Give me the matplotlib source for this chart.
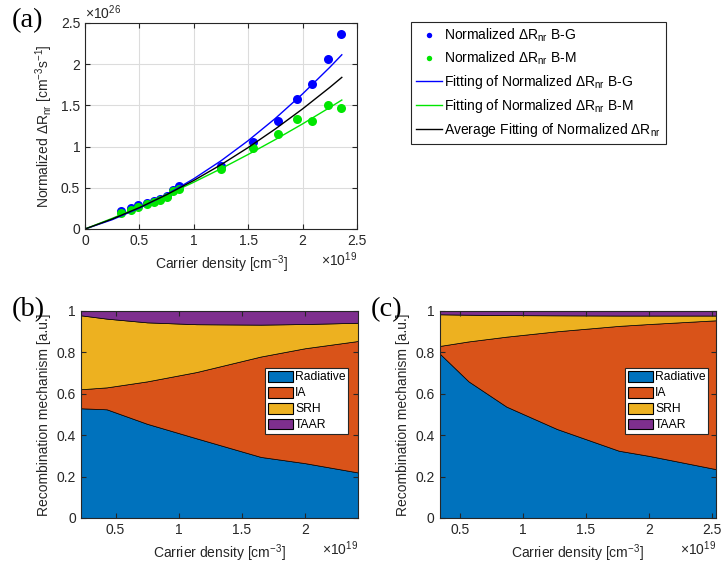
import numpy as np
import matplotlib
matplotlib.use("Agg")
import matplotlib.pyplot as plt

plt.rcParams["font.family"] = ["Liberation Sans", "DejaVu Sans"]
plt.rcParams["mathtext.fontset"] = "custom"
plt.rcParams["mathtext.rm"] = "Liberation Sans"
plt.rcParams["mathtext.it"] = "Liberation Sans:italic"

# ---- panel (a): normalized delta R_nr (units of 1e26) vs carrier density (units of 1e19)
n_bg = [0.33, 0.42, 0.49, 0.57, 0.63, 0.69, 0.75, 0.81, 0.86, 1.25, 1.54, 1.77, 1.95, 2.09, 2.23, 2.35]
r_bg = [0.22, 0.26, 0.29, 0.31, 0.34, 0.36, 0.40, 0.47, 0.52, 0.77, 1.06, 1.31, 1.58, 1.76, 2.06, 2.37]
n_bm = [0.33, 0.42, 0.49, 0.57, 0.63, 0.69, 0.75, 0.81, 0.86, 1.25, 1.54, 1.77, 1.95, 2.09, 2.23, 2.35]
r_bm = [0.20, 0.23, 0.27, 0.30, 0.33, 0.35, 0.39, 0.46, 0.49, 0.73, 0.98, 1.15, 1.33, 1.31, 1.50, 1.47]

n_fit = [0, 0.25, 0.5, 0.75, 1.0, 1.25, 1.5, 1.75, 2.0, 2.25, 2.36]
fit_bg = [0, 0.113, 0.253, 0.418, 0.61, 0.828, 1.073, 1.343, 1.64, 1.963, 2.114]
fit_bm = [0, 0.129, 0.267, 0.413, 0.568, 0.732, 0.905, 1.086, 1.276, 1.475, 1.565]
fit_avg = [0, 0.121, 0.26, 0.416, 0.589, 0.78, 0.989, 1.215, 1.458, 1.719, 1.84]

# ---- panel (b) and (c): recombination mechanism fractions
mech = ["Radiative", "IA", "SRH", "TAAR"]
n_b = [0.226, 0.43, 0.75, 1.14, 1.65, 2.0, 2.42]
rad_b = [0.53, 0.525, 0.455, 0.385, 0.295, 0.265, 0.22]
ia_b = [0.092, 0.106, 0.205, 0.32, 0.485, 0.555, 0.635]
srh_b = [0.357, 0.332, 0.285, 0.231, 0.154, 0.117, 0.088]
taar_b = [0.021, 0.037, 0.055, 0.064, 0.066, 0.063, 0.057]

n_c = [0.34, 0.57, 0.87, 1.27, 1.76, 2.0, 2.53]
rad_c = [0.795, 0.66, 0.538, 0.43, 0.325, 0.30, 0.236]
ia_c = [0.036, 0.193, 0.338, 0.472, 0.603, 0.637, 0.719]
srh_c = [0.153, 0.129, 0.104, 0.077, 0.05, 0.041, 0.023]
taar_c = [0.016, 0.018, 0.02, 0.021, 0.022, 0.022, 0.022]

MCOL = ["#0072BD", "#D95319", "#EDB120", "#7E2F8E"]
AXC = "#262626"


def matlab_style(ax):
    for s in ax.spines.values():
        s.set_color(AXC); s.set_linewidth(0.8)
    ax.tick_params(direction="in", colors=AXC, labelsize=10, length=3.5,
                   top=True, right=True, labeltop=False, labelright=False)


fig = plt.figure(figsize=(7.21, 5.65), dpi=100)

# (a)
ax = fig.add_axes([0.1179, 0.5947, 0.3773, 0.3646])
ax.plot(n_bg, r_bg, "o", color="#0000FF", ms=6.5, mec="none", label="Normalized ΔR$_{\\rm nr}$ B-G")
ax.plot(n_bm, r_bm, "o", color="#00E600", ms=6.5, mec="none", label="Normalized ΔR$_{\\rm nr}$ B-M")
ax.plot(n_fit, fit_bg, "-", color="#0000FF", lw=1.0, label="Fitting of Normalized ΔR$_{\\rm nr}$ B-G")
ax.plot(n_fit, fit_bm, "-", color="#00E600", lw=1.0, label="Fitting of Normalized ΔR$_{\\rm nr}$ B-M")
ax.plot(n_fit, fit_avg, "-", color="black", lw=1.0, label="Average Fitting of Normalized ΔR$_{\\rm nr}$")
ax.set_xlim(0, 2.5); ax.set_ylim(0, 2.5)
ax.set_xticks([0, 0.5, 1, 1.5, 2, 2.5]); ax.set_xticklabels(["0", "0.5", "1", "1.5", "2", "2.5"])
ax.set_yticks([0, 0.5, 1, 1.5, 2, 2.5]); ax.set_yticklabels(["0", "0.5", "1", "1.5", "2", "2.5"])
ax.grid(True, color="#DCDCDC", lw=0.8); ax.set_axisbelow(True)
matlab_style(ax)
ax.set_xlabel("Carrier density [cm$^{-3}$]", fontsize=10, color=AXC)
ax.set_ylabel("Normalized ΔR$_{\\rm nr}$ [cm$^{-3}$s$^{-1}$]", fontsize=10, color=AXC)
ax.text(0, 1.005, "×10$^{26}$", transform=ax.transAxes, ha="left", va="bottom", fontsize=10, color=AXC)
ax.text(1.0, -0.105, "×10$^{19}$", transform=ax.transAxes, ha="right", va="top", fontsize=10, color=AXC)
h, l = ax.get_legend_handles_labels()
leg = fig.legend(h, l, loc="upper left", bbox_to_anchor=(411 / 721, 1 - 22 / 565), fontsize=10,
                 frameon=True, fancybox=False, edgecolor=AXC, borderpad=0.35, labelspacing=0.42,
                 handlelength=1.9, handletextpad=0.15, markerscale=0.6, borderaxespad=0, framealpha=1)
leg.get_frame().set_linewidth(0.8)
fig.text(12 / 721, 1 - 21 / 565, "(a)", family="Liberation Serif", fontsize=20.5, va="center", ha="left")


def stack_panel(rect, n, comps, xlim, xticks, label, lx, lgx):
    ax = fig.add_axes(rect)
    ax.stackplot(n, *comps, colors=MCOL, labels=mech, edgecolor="black", linewidth=0.5)
    ax.set_xlim(*xlim); ax.set_ylim(0, 1)
    ax.set_xticks(xticks); ax.set_xticklabels([f"{t:g}" for t in xticks])
    ax.set_yticks([0, 0.2, 0.4, 0.6, 0.8, 1]); ax.set_yticklabels(["0", "0.2", "0.4", "0.6", "0.8", "1"])
    matlab_style(ax)
    ax.set_xlabel("Carrier density [cm$^{-3}$]", fontsize=10, color=AXC)
    ax.set_ylabel("Recombination mechanism [a.u.]", fontsize=10, color=AXC)
    ax.text(1.0, -0.105, "×10$^{19}$", transform=ax.transAxes, ha="right", va="top", fontsize=10, color=AXC)
    lg = ax.legend(loc="center right", bbox_to_anchor=(lgx, 0.565), fontsize=8.7, frameon=True,
                   fancybox=False, edgecolor=AXC, borderpad=0.2, labelspacing=0.28, framealpha=1,
                   handlelength=2.1, handleheight=1.0, handletextpad=0.15, borderaxespad=0)
    lg.get_frame().set_linewidth(0.8)
    for p in lg.get_patches():
        p.set_edgecolor("black"); p.set_linewidth(0.8)
    fig.text(lx, 1 - 310 / 565, label, family="Liberation Serif", fontsize=20.5, va="center", ha="left")
    return ax


stack_panel([0.1123, 0.0832, 0.3842, 0.3664], n_b, [rad_b, ia_b, srh_b, taar_b],
            (0.226, 2.42), [0.5, 1, 1.5, 2], "(b)", 12 / 721, 0.964)
stack_panel([0.6096, 0.0832, 0.3835, 0.3664], n_c, [rad_c, ia_c, srh_c, taar_c],
            (0.34, 2.53), [0.5, 1, 1.5, 2, 2.5], "(c)", 371 / 721, 0.971)

fig.savefig("out.png", dpi=100)
